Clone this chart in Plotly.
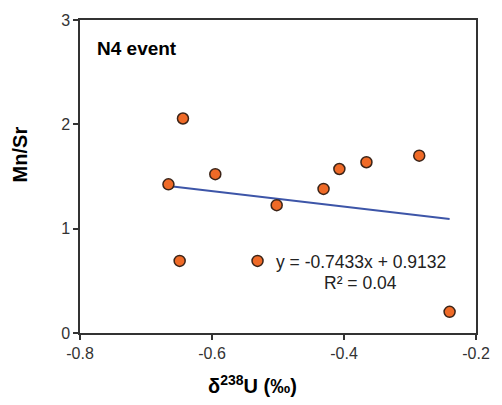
import plotly.graph_objects as go

# Data
d238U = [-0.666, -0.644, -0.595, -0.502, -0.431, -0.407, -0.366, -0.286, -0.649, -0.531, -0.240]
mn_sr = [1.425, 2.056, 1.522, 1.225, 1.381, 1.572, 1.637, 1.700, 0.691, 0.691, 0.203]

slope = -0.7433
intercept = 0.9132
r2 = 0.04

x_ticks = [-0.8, -0.6, -0.4, -0.2]
y_ticks = [0, 1, 2, 3]

FONT = "Liberation Sans, Arial, Helvetica, sans-serif"

xmin, xmax = min(d238U), max(d238U)
trend_x = [xmin, xmax]
trend_y = [slope * v + intercept for v in trend_x]

fig = go.Figure()
fig.add_trace(go.Scatter(
    x=trend_x, y=trend_y, mode="lines",
    line=dict(color="#3d55a8", width=2),
    showlegend=False, hoverinfo="skip"))
fig.add_trace(go.Scatter(
    x=d238U, y=mn_sr, mode="markers",
    marker=dict(size=11, color="#ef6a27", line=dict(color="#3b2418", width=1.5)),
    showlegend=False))

fig.update_layout(
    width=502, height=405,
    margin=dict(l=80, r=16, t=13, b=72),
    paper_bgcolor="white", plot_bgcolor="white",
    font=dict(family=FONT, color="#333333"),
    xaxis=dict(range=[-0.8, -0.2], tickvals=x_ticks,
               ticktext=[f"{v:g}" for v in x_ticks],
               showgrid=False, zeroline=False,
               showline=True, linecolor="#333333", linewidth=1.5, mirror=True,
               ticks="outside", ticklen=5, tickwidth=1.5, tickcolor="#333333",
               tickfont=dict(size=16, color="#333333")),
    yaxis=dict(range=[0, 3], tickvals=y_ticks,
               ticktext=[str(v) for v in y_ticks],
               showgrid=False, zeroline=False,
               showline=True, linecolor="#333333", linewidth=1.5, mirror=True,
               ticks="outside", ticklen=5, tickwidth=1.5, tickcolor="#333333",
               tickfont=dict(size=16, color="#333333")),
    annotations=[
        dict(text="<b>N4 event</b>", xref="paper", yref="paper",
             x=0.037, y=0.91, xanchor="left", yanchor="middle",
             showarrow=False, font=dict(size=19, color="black", family=FONT)),
        dict(text=f"y = {slope}x + {intercept}", xref="x", yref="y",
             x=-0.3744, y=0.681, xanchor="center", yanchor="middle",
             showarrow=False, font=dict(size=17.5, color="#222222", family=FONT)),
        dict(text=f"R² = {r2:.2f}", xref="x", yref="y",
             x=-0.3744, y=0.475, xanchor="center", yanchor="middle",
             showarrow=False, font=dict(size=17.5, color="#222222", family=FONT)),
        dict(text="<b>Mn/Sr</b>", xref="paper", yref="paper",
             x=-0.152, y=0.57, xanchor="center", yanchor="middle", textangle=-90,
             showarrow=False, font=dict(size=20, color="black", family=FONT)),
        dict(text="<b>δ<sup>238</sup>U (‰)</b>", xref="paper", yref="paper",
             x=0.435, y=-0.165, xanchor="center", yanchor="middle",
             showarrow=False, font=dict(size=20, color="black", family=FONT)),
    ],
)

fig.write_html("out.html")
